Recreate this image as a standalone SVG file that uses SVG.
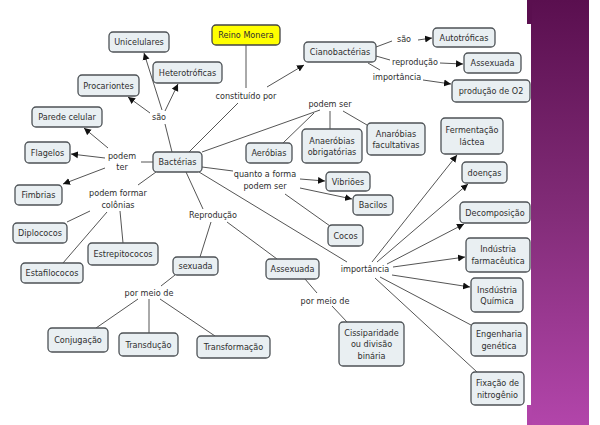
<svg xmlns="http://www.w3.org/2000/svg" width="600" height="425" viewBox="0 0 600 425">
<defs>
<linearGradient id="purp" x1="0" y1="0" x2="0" y2="1">
<stop offset="0" stop-color="#5a0f4f"/>
<stop offset="0.5" stop-color="#822c78"/>
<stop offset="1" stop-color="#b245aa"/>
</linearGradient>
<marker id="arr" markerWidth="8" markerHeight="8" refX="7" refY="4" orient="auto" markerUnits="userSpaceOnUse">
<path d="M0,0.5 L7,4 L0,7.5 Z" fill="#111"/>
</marker>
<style>
.n rect{fill:#e9eff2;stroke:#4d5256;stroke-width:1.3}
.t{font-family:"DejaVu Sans Condensed","DejaVu Sans",sans-serif;font-size:9px;fill:#2e2e2e;text-anchor:middle;dominant-baseline:central}
#conn line{stroke:#555;stroke-width:1}
#conn .a{marker-end:url(#arr)}
</style>
</defs>
<rect width="600" height="425" fill="#fff"/>
<rect x="531" y="0" width="58" height="425" fill="url(#purp)"/>
<rect x="527" y="0" width="5" height="24" fill="#5a0f4f"/>
<rect x="527" y="405" width="5" height="20" fill="#b044a8"/>

<g id="conn">
<line x1="246" y1="45" x2="246" y2="88"/>
<line class="a" x1="267" y1="87" x2="304" y2="65"/>
<line x1="238" y1="103" x2="189" y2="152"/>
<line x1="376" y1="47" x2="392" y2="41"/>
<line class="a" x1="418" y1="40" x2="432" y2="38"/>
<line x1="376" y1="56" x2="390" y2="60"/>
<line class="a" x1="440" y1="63" x2="463" y2="64"/>
<line x1="368" y1="63" x2="380" y2="70"/>
<line class="a" x1="423" y1="80" x2="451" y2="84"/>
<line x1="172" y1="152" x2="165" y2="124"/>
<line class="a" x1="162" y1="110" x2="144" y2="53"/>
<line class="a" x1="150" y1="113" x2="128" y2="97"/>
<line class="a" x1="165" y1="111" x2="178" y2="84"/>
<line x1="153" y1="162" x2="141" y2="162"/>
<line class="a" x1="108" y1="148" x2="84" y2="128"/>
<line class="a" x1="105" y1="158" x2="71" y2="154"/>
<line class="a" x1="105" y1="168" x2="63" y2="184"/>
<line x1="156" y1="172" x2="138" y2="185"/>
<line x1="90" y1="211" x2="67" y2="222"/>
<line x1="120" y1="211" x2="123" y2="243"/>
<line x1="107" y1="212" x2="63" y2="263"/>
<line x1="202" y1="152" x2="320" y2="110"/>
<line x1="314" y1="113" x2="283" y2="143"/>
<line x1="330" y1="111" x2="330" y2="129"/>
<line x1="343" y1="111" x2="367" y2="125"/>
<line x1="202" y1="167" x2="233" y2="171"/>
<line class="a" x1="300" y1="179" x2="325" y2="181"/>
<line class="a" x1="300" y1="188" x2="352" y2="199"/>
<line x1="285" y1="194" x2="330" y2="226"/>
<line x1="186" y1="172" x2="203" y2="209"/>
<line x1="199" y1="172" x2="347" y2="262"/>
<line x1="211" y1="222" x2="200" y2="257"/>
<line x1="227" y1="222" x2="277" y2="259"/>
<line x1="175" y1="275" x2="161" y2="286"/>
<line x1="138" y1="299" x2="96" y2="328"/>
<line x1="149" y1="299" x2="149" y2="333"/>
<line x1="160" y1="299" x2="215" y2="336"/>
<line x1="305" y1="279" x2="317" y2="293"/>
<line x1="332" y1="306" x2="347" y2="322"/>
<line class="a" x1="372" y1="262" x2="457" y2="155"/>
<line class="a" x1="377" y1="262" x2="468" y2="184"/>
<line class="a" x1="387" y1="264" x2="464" y2="224"/>
<line class="a" x1="393" y1="267" x2="465" y2="257"/>
<line class="a" x1="392" y1="275" x2="470" y2="287"/>
<line x1="380" y1="277" x2="471" y2="325"/>
<line x1="375" y1="278" x2="477" y2="372"/>
</g>

<g id="labels">
<text class="t" x="246" y="96">constituído por</text>
<text class="t" x="159" y="117">são</text>
<text class="t" x="404" y="39">são</text>
<text class="t" x="415" y="62">reprodução</text>
<text class="t" x="397" y="77">importância</text>
<text class="t" x="330" y="104">podem ser</text>
<text class="t" x="122" y="156">podem</text>
<text class="t" x="122" y="167">ter</text>
<text class="t" x="118" y="193">podem formar</text>
<text class="t" x="118" y="205">colônias</text>
<text class="t" x="265" y="174">quanto a forma</text>
<text class="t" x="265" y="186">podem ser</text>
<text class="t" x="213" y="215">Reprodução</text>
<text class="t" x="149" y="293">por meio de</text>
<text class="t" x="325" y="301">por meio de</text>
<text class="t" x="365" y="269">importância</text>
</g>

<g id="reino" class="n"><rect x="212" y="25" width="68" height="20" rx="4" style="fill:#ffff00;stroke:#444"/><text class="t" x="246" y="35">Reino Monera</text></g>
<g id="unicelulares" class="n"><rect x="109" y="32" width="60" height="20" rx="4"/><text class="t" x="139" y="42">Unicelulares</text></g>
<g id="heterotroficas" class="n"><rect x="153" y="62" width="69" height="21" rx="4"/><text class="t" x="187.5" y="72.5">Heterotróficas</text></g>
<g id="procariontes" class="n"><rect x="78" y="75" width="61" height="21" rx="4"/><text class="t" x="108.5" y="85.5">Procariontes</text></g>
<g id="parede" class="n"><rect x="32" y="107" width="70" height="20" rx="4"/><text class="t" x="67" y="117">Parede celular</text></g>
<g id="ciano" class="n"><rect x="304" y="42" width="72" height="20" rx="4"/><text class="t" x="340" y="52">Cianobactérias</text></g>
<g id="autotroficas" class="n"><rect x="433" y="28" width="62" height="19" rx="4"/><text class="t" x="464" y="37.5">Autotróficas</text></g>
<g id="assexuada1" class="n"><rect x="464" y="53" width="57" height="20" rx="4"/><text class="t" x="492.5" y="63">Assexuada</text></g>
<g id="o2" class="n"><rect x="452" y="80" width="78" height="22" rx="4"/><text class="t" x="491" y="91">produção de O2</text></g>
<g id="bacterias" class="n"><rect x="153" y="152" width="49" height="20" rx="4"/><text class="t" x="177.5" y="162">Bactérias</text></g>
<g id="flagelos" class="n"><rect x="25" y="142" width="45" height="21" rx="4"/><text class="t" x="47.5" y="152.5">Flagelos</text></g>
<g id="fimbrias" class="n"><rect x="15" y="185" width="47" height="20" rx="4"/><text class="t" x="38.5" y="195">Fimbrias</text></g>
<g id="aerobias" class="n"><rect x="246" y="143" width="46" height="20" rx="4"/><text class="t" x="269" y="153">Aeróbias</text></g>
<g id="anaerobias" class="n"><rect x="302" y="129" width="60" height="34" rx="4"/><text class="t" x="332" y="140.5">Anaeróbias</text><text class="t" x="332" y="152">obrigatórias</text></g>
<g id="anarobias" class="n"><rect x="367" y="123" width="58" height="32" rx="4"/><text class="t" x="396" y="133.5">Anaróbias</text><text class="t" x="396" y="145">facultativas</text></g>
<g id="fermentacao" class="n"><rect x="441" y="118" width="62" height="36" rx="4"/><text class="t" x="472" y="130">Fermentação</text><text class="t" x="472" y="142">láctea</text></g>
<g id="doencas" class="n"><rect x="462" y="162" width="45" height="21" rx="4"/><text class="t" x="484.5" y="172.5">doenças</text></g>
<g id="vibrioes" class="n"><rect x="326" y="172" width="44" height="19" rx="4"/><text class="t" x="348" y="181.5">Vibriões</text></g>
<g id="bacilos" class="n"><rect x="353" y="195" width="40" height="20" rx="4"/><text class="t" x="373" y="205">Bacilos</text></g>
<g id="cocos" class="n"><rect x="328" y="225" width="35" height="21" rx="4"/><text class="t" x="345.5" y="235.5">Cocos</text></g>
<g id="decomposicao" class="n"><rect x="460" y="202" width="70" height="21" rx="4"/><text class="t" x="495" y="212.5">Decomposição</text></g>
<g id="diplococos" class="n"><rect x="13" y="223" width="54" height="20" rx="4"/><text class="t" x="40" y="233">Diplococos</text></g>
<g id="estrepitococos" class="n"><rect x="88" y="243" width="70" height="22" rx="4"/><text class="t" x="123" y="254">Estrepitococos</text></g>
<g id="estafilococos" class="n"><rect x="21" y="263" width="62" height="20" rx="4"/><text class="t" x="52" y="273">Estafilococos</text></g>
<g id="sexuada" class="n"><rect x="173" y="257" width="45" height="18" rx="4"/><text class="t" x="195.5" y="266">sexuada</text></g>
<g id="assexuada2" class="n"><rect x="266" y="259" width="53" height="20" rx="4"/><text class="t" x="292.5" y="269">Assexuada</text></g>
<g id="farmaceutica" class="n"><rect x="466" y="238" width="64" height="34" rx="4"/><text class="t" x="498" y="249">Indústria</text><text class="t" x="498" y="261">farmacêutica</text></g>
<g id="quimica" class="n"><rect x="471" y="278" width="52" height="34" rx="4"/><text class="t" x="497" y="289.5">Insdústria</text><text class="t" x="497" y="301">Química</text></g>
<g id="conjugacao" class="n"><rect x="48" y="328" width="60" height="24" rx="4"/><text class="t" x="78" y="340">Conjugação</text></g>
<g id="transducao" class="n"><rect x="119" y="333" width="59" height="23" rx="4"/><text class="t" x="148.5" y="344.5">Transdução</text></g>
<g id="transformacao" class="n"><rect x="197" y="336" width="73" height="22" rx="4"/><text class="t" x="233.5" y="347">Transformação</text></g>
<g id="cissiparidade" class="n"><rect x="339" y="322" width="65" height="44" rx="4"/><text class="t" x="371.5" y="332.5">Cissiparidade</text><text class="t" x="371.5" y="344">ou divisão</text><text class="t" x="371.5" y="355.5">binária</text></g>
<g id="engenharia" class="n"><rect x="471" y="323" width="56" height="33" rx="4"/><text class="t" x="499" y="334">Engenharia</text><text class="t" x="499" y="345.5">genética</text></g>
<g id="fixacao" class="n"><rect x="471" y="372" width="53" height="33" rx="4"/><text class="t" x="497.5" y="383">Fixação de</text><text class="t" x="497.5" y="394.5">nitrogênio</text></g>
</svg>
